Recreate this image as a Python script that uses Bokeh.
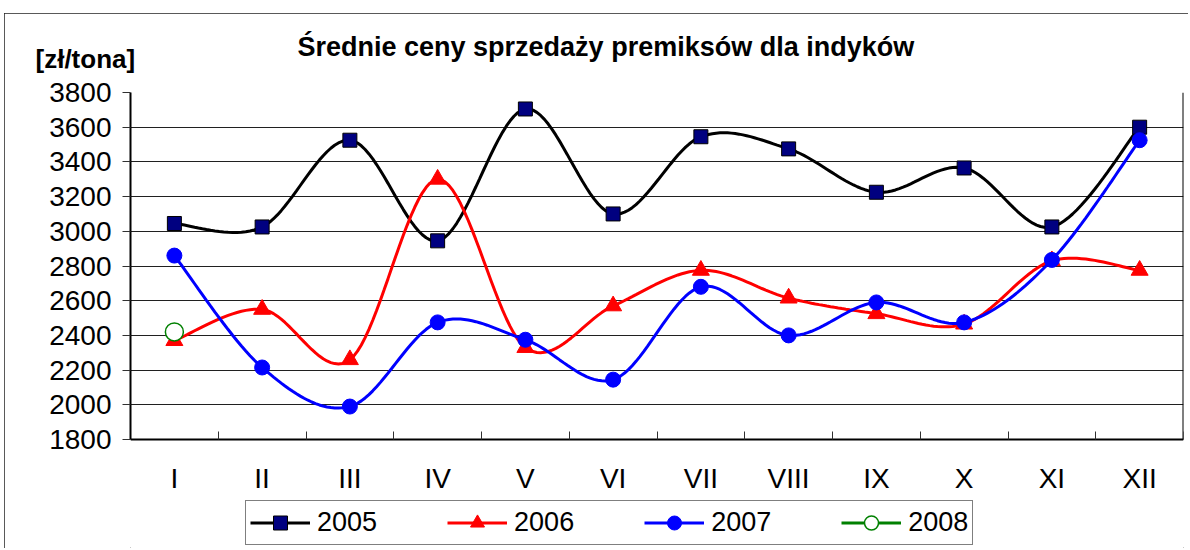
import numpy as np
from bokeh.plotting import figure
from bokeh.models import Range1d, FixedTicker, Title, Legend, LegendItem, LinearAxis
from bokeh.embed import file_html
from bokeh.resources import INLINE

# ---- data ----
months = ["I", "II", "III", "IV", "V", "VI", "VII", "VIII", "IX", "X", "XI", "XII"]
s2005 = [3045, 3025, 3525, 2945, 3705, 3100, 3545, 3475, 3225, 3365, 3025, 3600]
s2006 = [2370, 2550, 2260, 3300, 2330, 2570, 2775, 2615, 2525, 2465, 2830, 2775]
s2007 = [2860, 2215, 1990, 2475, 2375, 2145, 2680, 2400, 2590, 2475, 2835, 3525]
s2008 = [2420]
y_ticks = [1800, 2000, 2200, 2400, 2600, 2800, 3000, 3200, 3400, 3600, 3800]
title_text = "Średnie ceny sprzedaży premiksów dla indyków"
unit_text = "[zł/tona]"

FONT = "Liberation Sans"

# layout: plot box is 347 px tall for 1800..3800; frame extends below it to hold
# the category labels and the legend
Y_MIN, Y_MAX = y_ticks[0], y_ticks[-1]
BOX_H, FRAME_H = 347, 456
Y_START = Y_MAX - (Y_MAX - Y_MIN) * FRAME_H / BOX_H


def smooth(ys, n=24):
    """Excel-like smoothed line (Catmull-Rom Bezier, tension 1/6)."""
    xs = np.arange(1, len(ys) + 1, dtype=float)
    ys = np.asarray(ys, dtype=float)
    pts = np.column_stack([xs, ys])
    m = len(pts)
    out = [pts[0]]
    t = np.linspace(0, 1, n)[1:][:, None]
    for i in range(m - 1):
        p0 = pts[i - 1] if i > 0 else pts[i]
        p1 = pts[i]
        p2 = pts[i + 1]
        p3 = pts[i + 2] if i + 2 < m else pts[i + 1]
        c1 = p1 + (p2 - p0) / 6.0
        c2 = p2 - (p3 - p1) / 6.0
        seg = ((1 - t) ** 3) * p1 + 3 * ((1 - t) ** 2) * t * c1 + 3 * (1 - t) * t ** 2 * c2 + t ** 3 * p2
        out.extend(seg)
    out = np.array(out)
    return out[:, 0], out[:, 1]


xs_pos = list(range(1, len(months) + 1))

p = figure(frame_width=1053, frame_height=FRAME_H,
           x_range=Range1d(0.5, 12.5), y_range=Range1d(Y_START, Y_MAX),
           output_backend="svg", toolbar_location=None,
           x_axis_location=None, y_axis_location=None,
           min_border_left=126, min_border_right=5,
           min_border_top=79, min_border_bottom=0,
           background_fill_color="white", border_fill_color="white",
           outline_line_color=None)
p.styles = {"outline": "1px solid #222", "outline-offset": "-1px",
            "margin-left": "4px", "margin-top": "13px"}

# x axis, drawn at y = 1800
xaxis = LinearAxis(fixed_location=Y_MIN,
                   ticker=FixedTicker(ticks=xs_pos, minor_ticks=[i + 0.5 for i in range(0, len(months) + 1)]),
                   major_label_overrides={i: m for i, m in zip(xs_pos, months)},
                   major_tick_in=0, major_tick_out=0,
                   minor_tick_in=8, minor_tick_out=0, minor_tick_line_color="#303030",
                   axis_line_color="black", axis_line_width=2,
                   major_label_standoff=23, major_label_text_font=FONT,
                   major_label_text_font_size="28px", major_label_text_color="black")
p.add_layout(xaxis, "below")

# y axis limited to 1800..3800
yaxis = LinearAxis(ticker=FixedTicker(ticks=y_ticks), bounds=(Y_MIN, Y_MAX),
                   major_tick_in=0, major_tick_out=8, major_tick_line_color="#303030",
                   minor_tick_line_color=None,
                   axis_line_color="black", axis_line_width=2,
                   major_label_standoff=11, major_label_text_font=FONT,
                   major_label_text_font_size="28px", major_label_text_color="black")
p.add_layout(yaxis, "left")

# right border of the plot box
raxis = LinearAxis(fixed_location=12.5, ticker=FixedTicker(ticks=[]), bounds=(Y_MIN, Y_MAX),
                   major_tick_in=0, major_tick_out=0, minor_tick_line_color=None,
                   major_label_text_font_size="0px",
                   axis_line_color="black", axis_line_width=2)
p.add_layout(raxis, "right")

p.xgrid.visible = False
p.ygrid.ticker = FixedTicker(ticks=y_ticks)
p.ygrid.grid_line_color = "#202020"
p.ygrid.grid_line_width = 1

# series
items = []
lx, ly = smooth(s2005)
l1 = p.line(lx, ly, line_color="black", line_width=3)
m1 = p.scatter(xs_pos, s2005, marker="square", size=14, fill_color="#000080", line_color="black", line_width=1)
items.append(LegendItem(label="2005", renderers=[l1, m1]))

lx, ly = smooth(s2006)
l2 = p.line(lx, ly, line_color="#FF0000", line_width=3)
m2 = p.scatter(xs_pos, s2006, marker="triangle", size=17, fill_color="#FF0000", line_color="#FF0000", line_width=1)
items.append(LegendItem(label="2006", renderers=[l2, m2]))

lx, ly = smooth(s2007)
l3 = p.line(lx, ly, line_color="#0000FF", line_width=3)
m3 = p.scatter(xs_pos, s2007, marker="circle", size=15, fill_color="#0000FF", line_color="#0000FF", line_width=1)
items.append(LegendItem(label="2007", renderers=[l3, m3]))

x2008 = xs_pos[:len(s2008)]
l4 = p.line(x2008, s2008, line_color="#008000", line_width=3)
m4 = p.scatter(x2008, s2008, marker="circle", size=18, fill_color="white", line_color="#008000", line_width=1.5)
items.append(LegendItem(label="2008", renderers=[l4, m4]))

legend = Legend(items=items, orientation="horizontal", location=(115, 3),
                border_line_color="black", border_line_width=1,
                padding=4, margin=0, spacing=70,
                glyph_width=60, glyph_height=35, label_standoff=7,
                label_text_font=FONT, label_text_font_size="27px",
                label_text_color="black",
                background_fill_color="white", background_fill_alpha=1.0)
p.add_layout(legend)

# unit label (inner) and chart title (outer) in the top panel
p.add_layout(Title(text=unit_text, align="left", offset=-95, standoff=38,
                   text_font=FONT, text_font_size="26px", text_font_style="bold",
                   text_color="black"), "above")
p.add_layout(Title(text=title_text, align="left", offset=167, standoff=-78,
                   text_font=FONT, text_font_size="27px", text_font_style="bold",
                   text_color="black"), "above")

open("out.html", "w").write(file_html(p, INLINE))
